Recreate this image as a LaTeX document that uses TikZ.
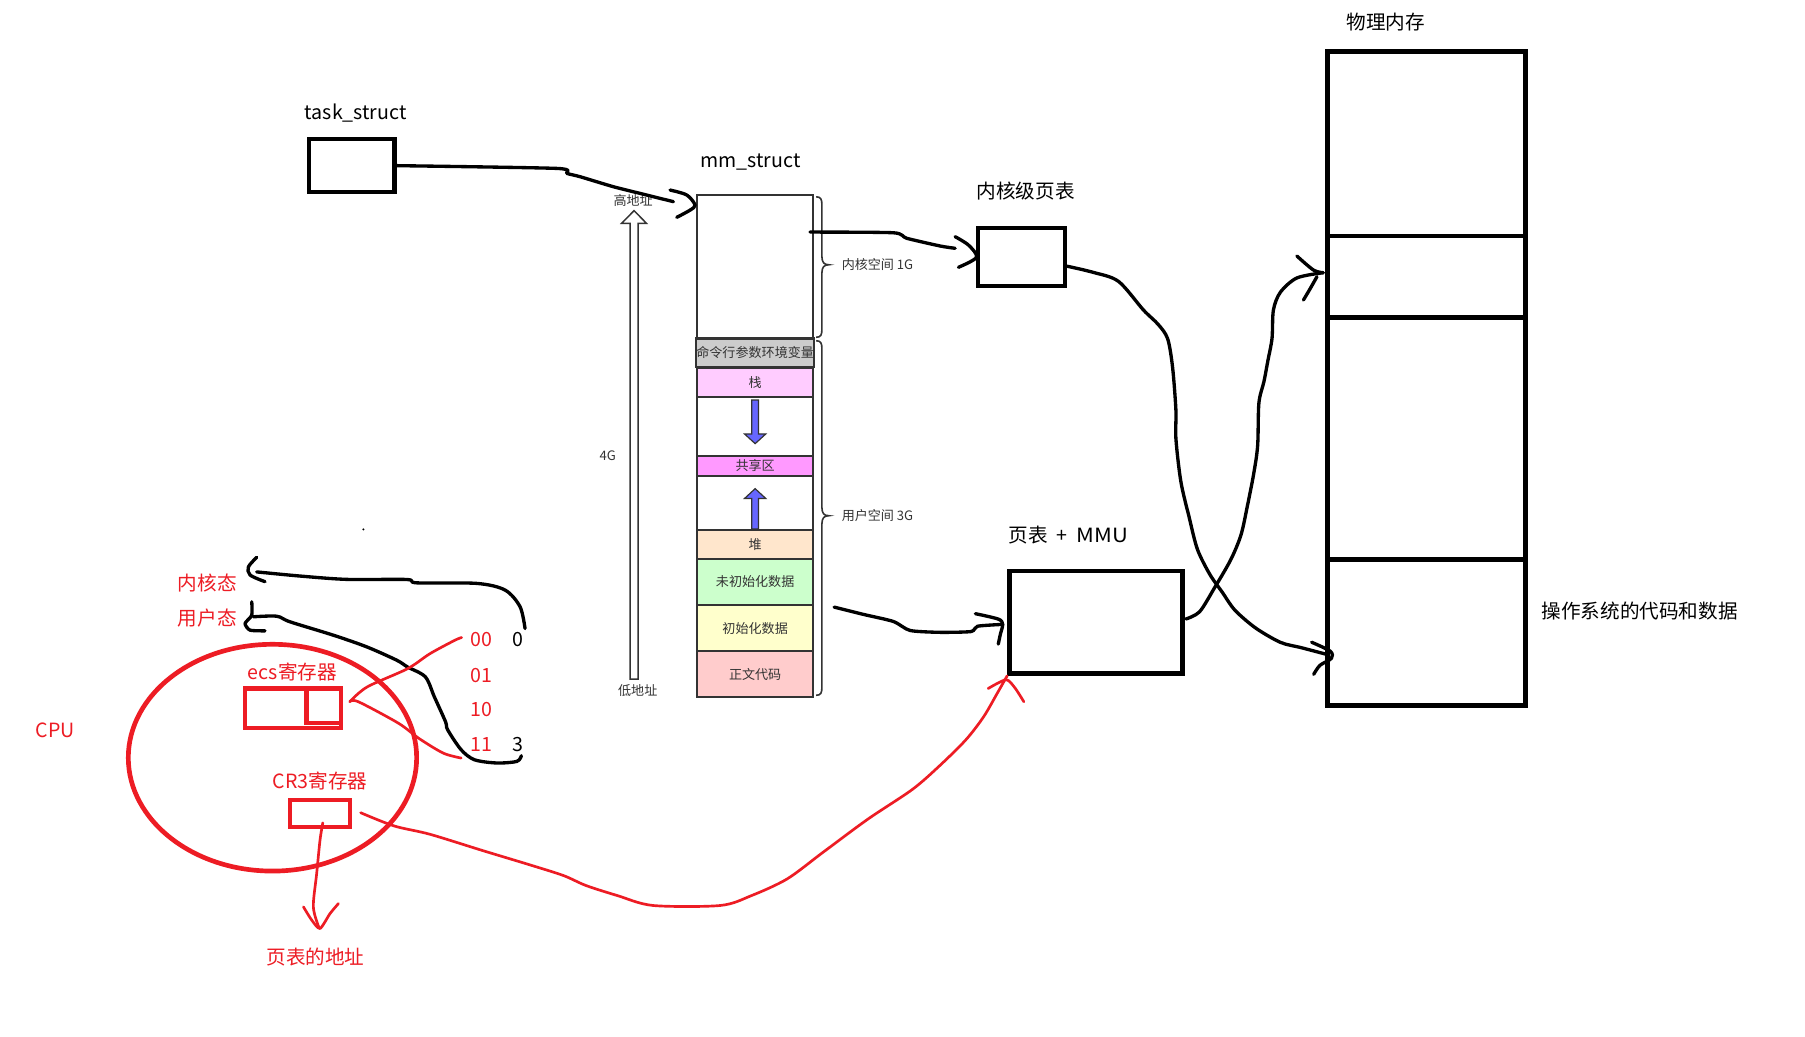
\documentclass[tikz,border=0pt]{standalone}
\usepackage{fontspec}
\setmainfont{Noto Sans CJK SC}
\usetikzlibrary{shapes.geometric,calc}
\definecolor{pred}{HTML}{ED1C24}
\definecolor{dg}{HTML}{333333}
\definecolor{cmdc}{HTML}{CCCCCC}
\definecolor{stackc}{HTML}{FFCCFF}
\definecolor{sharec}{HTML}{FF99FF}
\definecolor{heapc}{HTML}{FFE6CC}
\definecolor{bssc}{HTML}{CCFFCC}
\definecolor{datac}{HTML}{FFFFCC}
\definecolor{textc}{HTML}{FFCCCC}
\definecolor{bluea}{HTML}{6666FF}
\newcommand\pxu{0.8634pt}
\begin{document}
\begin{tikzpicture}[x=0.8634pt,y=-0.8634pt,
  big/.style={font=\fontsize{14.7pt}{16pt}\selectfont, inner sep=0pt},
  redlbl/.style={big, text=pred},
  small/.style={font=\fontsize{9.8pt}{11pt}\selectfont, text=dg, inner sep=0pt},
  seg/.style={draw=dg, line width=1.6pt, minimum width=101*\pxu, inner sep=0pt,
      font=\fontsize{9.8pt}{11pt}\selectfont, text=dg},
  bbox/.style={draw=black, inner sep=0pt},
  hand/.style={draw=black, line width=2.5pt, line cap=round, line join=round},
  rhand/.style={draw=pred, line width=2pt, line cap=round, line join=round},
  brc/.style={draw=dg, line width=1.2pt},
]
\useasboundingbox (0,0) rectangle (1568,900);
\fill[white] (0,0) rectangle (1568,900);

% ---------- task_struct ----------
\node[big] (tasklbl) at (309,98) {task\_struct};
\node[bbox, line width=3.2pt, minimum width=74.6*\pxu, minimum height=45.8*\pxu] (task) at (305.5,143.9) {};

% ---------- mm_struct ----------
\node[big] (mmlbl) at (652,141) {mm\_struct};
\node[seg, fill=white, minimum height=124.5*\pxu] (mmk) at (656,232) {};
\node[seg, fill=cmdc, minimum height=25*\pxu] (cmd) at (656,306.5) {命令行参数环境变量};
\node[seg, fill=stackc, minimum height=25.5*\pxu] (stk) at (656,332) {栈};
\node[seg, fill=white, minimum height=51.5*\pxu] (gap1) at (656,370.5) {};
\node[seg, fill=sharec, minimum height=17*\pxu] (shr) at (656,404.8) {共享区};
\node[seg, fill=white, minimum height=47*\pxu] (gap2) at (656,436.8) {};
\node[seg, fill=heapc, minimum height=25*\pxu] (heap) at (656,472.8) {堆};
\node[seg, fill=bssc, minimum height=40.5*\pxu] (bss) at (656,505.5) {未初始化数据};
\node[seg, fill=datac, minimum height=40.3*\pxu] (dat) at (656,545.8) {初始化数据};
\node[seg, fill=textc, minimum height=39.5*\pxu] (txt) at (656,585.5) {正文代码};

% blue arrows
\draw[fill=bluea, draw=dg, line width=0.9pt]
  (653.1,347.5) -- (658.9,347.5) -- (658.9,377) -- (665.2,377) -- (656,385.4)
  -- (646.8,377) -- (653.1,377) -- cycle;
\draw[fill=bluea, draw=dg, line width=0.9pt]
  (653.1,459.5) -- (658.9,459.5) -- (658.9,433) -- (665.2,433) -- (656,424.5)
  -- (646.8,433) -- (653.1,433) -- cycle;

% braces
\draw[brc] (709,171) .. controls (713,171) and (714,173) .. (714,178) -- (714,223)
  .. controls (714,228) and (716,230) .. (720,230) .. controls (716,230) and (714,232) .. (714,237)
  -- (714,286) .. controls (714,291) and (713,293) .. (709,293);
\draw[brc] (709,296) .. controls (713,296) and (714,298) .. (714,303) -- (714,441)
  .. controls (714,446) and (716,448) .. (720,448) .. controls (716,448) and (714,450) .. (714,455)
  -- (714,597) .. controls (714,602) and (713,604) .. (709,604);
\node[small, anchor=west] (kspace) at (731,230) {内核空间 1G};
\node[small, anchor=west] (uspace) at (731,448) {用户空间 3G};

% hollow address arrow
\draw[draw=dg, line width=1.1pt, fill=white]
  (547.3,590) -- (547.3,194) -- (540,194) -- (550.8,183) -- (561.6,194) -- (554.3,194)
  -- (554.3,590) -- cycle;
\node[small] (hi) at (550,174) {高地址};
\node[small] (lo) at (554,600) {低地址};
\node[small] (fourg) at (528,396) {4G};

% ---------- kernel page table ----------
\node[big] (ktlbl) at (891,166) {内核级页表};
\node[bbox, line width=3pt, minimum width=75*\pxu, minimum height=50.5*\pxu] (ktab) at (887.5,223.5) {};

% ---------- page table + MMU ----------
\node[big] (mmulbl) at (928,465) {页表\hspace{0.45em}+\hspace{0.45em}\addfontfeatures{FakeStretch=1.12}MMU};
\node[bbox, line width=3.6pt, minimum width=150*\pxu, minimum height=89*\pxu] (mmu) at (952,540.5) {};

% ---------- physical memory ----------
\node[big] (physlbl) at (1204,19) {物理内存};
\node[bbox, line width=3.7pt, minimum width=172*\pxu, minimum height=160.5*\pxu] (mem1) at (1239.5,124.75) {};
\node[bbox, line width=3.7pt, minimum width=172*\pxu, minimum height=71*\pxu] (mem2) at (1239.5,240.5) {};
\node[bbox, line width=3.7pt, minimum width=172*\pxu, minimum height=210*\pxu] (mem3) at (1239.5,381) {};
\node[bbox, line width=3.7pt, minimum width=172*\pxu, minimum height=126.5*\pxu] (mem4) at (1239.5,549.25) {};
\node[big, anchor=west] (oslbl) at (1339,531) {操作系统的代码和数据};

% ---------- black hand-drawn connectors ----------
% task_struct -> mm_struct
\draw[hand] plot[smooth, tension=0.4] coordinates {(task.east) (483.7,146.3) (492.4,150.6) (503.9,153.5) (532.8,162.2) (556,168) (585,175.2)};
\draw[hand] plot[smooth, tension=0.5] coordinates {(582.1,165.1) (596.6,169.4) (603.8,178.1) (599.5,182.5) (587.9,188.8)};

% mm kernel space -> kernel page table
\draw[hand] plot[smooth, tension=0.4] coordinates {(703.7,201.6) (776,202.2) (787.7,207) (816.7,213.7) (829.7,215.7)};
\draw[hand] plot[smooth, tension=0.5] coordinates {(829.7,205.6) (841.3,212.9) (ktab.west) (832.6,232.2)};

% kernel page table -> OS code/data in physical memory
\draw[hand] plot[smooth, tension=0.5] coordinates {(ktab.east |- 0,231.2) (950.1,236.7) (971.7,244.5) (993.3,269.3) (1006,281.7) (1014.3,294.2) (1018.6,319) (1021.5,356.2) (1021.5,381) (1025.8,418.3) (1033,449.3) (1040.2,477.2) (1051,499) (1061.8,514.5) (1072.7,530) (1090.7,545.5) (1112.3,558) (1130.3,562.6) (1153.8,568.8)};
\draw[hand] plot[smooth, tension=0.5] coordinates {(1139.4,557.9) (1155.6,565.7) (1156.6,571.9) (1146.6,578) (1141.2,585.8)};

% MMU -> physical memory section 2
\draw[hand] plot[smooth, tension=0.5] coordinates {(1030.2,537.7) (1042,531.5) (1054.6,511.4) (1069,486.5) (1078,464.8) (1083.5,440) (1089,412) (1092.5,387.2) (1093.6,350) (1098,331.4) (1101.5,312.8) (1105,294) (1106.2,269.3) (1112.3,253.8) (1126.7,241.4) (1149.5,236.9)};
\draw[hand] plot[smooth, tension=0.5] coordinates {(1126.6,222.4) (1141,234.6) (1149.5,236.9)};
\draw[hand] plot[smooth, tension=0.5] coordinates {(1144,240.4) (1138,251) (1132.3,260.6)};

% mm user space -> page table + MMU
\draw[hand] plot[smooth, tension=0.4] coordinates {(724.6,527.4) (750,533.7) (776.2,539.9) (790.6,547.7) (816.7,549.3) (843.7,548.6) (849.1,544) (871,542.4)};
\draw[hand] plot[smooth, tension=0.5] coordinates {(847.3,533.1) (867.2,537.8) (871,542.4) (869,551) (867.2,559.5)};

% 0 -> kernel mode
\draw[hand] plot[smooth, tension=0.5] coordinates {(456.1,546) (451.8,527.1) (438.8,512.6) (414.2,506.8) (362,506.3) (353.3,503.4) (301.2,503.3) (260.6,500.4) (223,496.8)};
\draw[hand] plot[smooth, tension=0.5] coordinates {(223,484.2) (215.8,492.4) (217.2,499.5) (230.2,505.3)};

% 3 -> user mode
\draw[hand] plot[smooth, tension=0.5] coordinates {(452.9,656.5) (449,661.4) (431.6,662.8) (412.2,660) (400.6,651.3) (388.9,634) (387,626.9) (377.3,605.3) (369.5,588) (354,579.4) (344.6,573.5) (318.5,561.9) (289.6,551.8) (252,540.2) (240.4,535.3) (220.1,535.8)};
\draw[hand] plot[smooth, tension=0.4] coordinates {(218.7,522.8) (218.7,534.4) (212.9,541.6) (217.2,547.4) (230.2,548)};

% stray dot
\fill (315.7,459.9) circle [radius=1];

% ---------- CPU (red) ----------
\node[redlbl] (cpulbl) at (48,634) {CPU};
\node[draw=pred, line width=3.5pt, ellipse, minimum width=250.5*\pxu, minimum height=197*\pxu, inner sep=0pt] (cpu) at (236.7,658.2) {};
\node[redlbl] (klbl) at (180,506.5) {内核态};
\node[redlbl] (ulbl) at (180,537.3) {用户态};
\node[redlbl] (ecslbl) at (254,583.6) {ecs寄存器};
\draw[pred, line width=3.4pt] (212.8,598.2) rectangle (296.2,632.6);
\node[draw=pred, line width=3.4pt, minimum width=29.7*\pxu, minimum height=30*\pxu, inner sep=0pt] (ecsr) at (281.3,613.2) {};
\coordinate (ecsin) at (303.8,609.6);
\node[redlbl] (cr3lbl) at (278,678.3) {CR3寄存器};
\node[draw=pred, line width=3pt, minimum width=52*\pxu, minimum height=23.5*\pxu, inner sep=0pt] (cr3) at (278,706.3) {};
\node[redlbl] (addrlbl) at (274,831.2) {页表的地址};

\node[redlbl] (b00) at (418.5,555.5) {00};
\node[redlbl] (b01) at (418.5,586.5) {01};
\node[redlbl] (b10) at (418.5,616.3) {10};
\node[redlbl] (b11) at (418.5,646.6) {11};
\node[big] (n0) at (449.8,555.5) {0};
\node[big] (n3) at (449.8,646.6) {3};

% 00 and 11 -> ecs register low bits
\draw[rhand] plot[smooth, tension=0.5] coordinates {(401,553.8) (394.7,556.4) (373.4,567.9) (354,580.9) (319,596.7) (ecsin)};
\draw[rhand] plot[smooth, tension=0.5] coordinates {(400.6,658.5) (385,654.2) (363.7,641.3) (346.2,628.3) (311.3,609.6) (ecsin)};

% CR3 -> page table address
\draw[rhand] plot[smooth, tension=0.5] coordinates {(280.4,714.8) (278,729.8) (275.1,758.8) (272.2,787.8) (277,805.5)};
\draw[rhand] plot[smooth, tension=0.4] coordinates {(263.6,787.8) (270.8,799.3) (278,806.6) (286.7,793.6) (294,784.9)};

% CR3 -> page table + MMU
\draw[rhand] plot[smooth, tension=0.5] coordinates {(313.3,706) (342.4,717.5) (373.4,724.7) (420,739.1) (462.6,752) (489.8,760.7) (509.2,769.3) (536.4,778) (567.4,786.6) (625.6,786.6) (652.8,778) (683.8,763.5) (714.8,740.5) (753.6,711.8) (792.4,685.9) (815.7,665.7) (839,642.7) (854.5,622.6) (866.2,602.4) (mmu.south west)};
\draw[rhand] plot[smooth, tension=0.4] coordinates {(858.4,598.1) (874,590.4) (882,598) (889.4,609.6)};
\end{tikzpicture}
\end{document}
